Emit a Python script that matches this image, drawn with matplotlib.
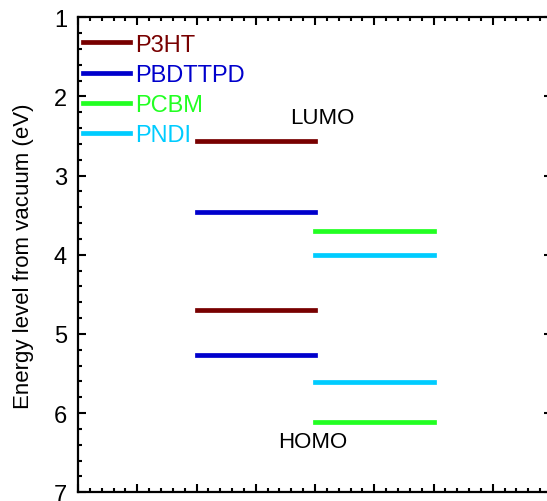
import matplotlib
matplotlib.use("Agg")
import matplotlib.pyplot as plt
from matplotlib.ticker import MultipleLocator

plt.rcParams['font.family'] = ['Liberation Sans', 'DejaVu Sans']

# Frontier orbital energies (eV below vacuum)
materials = ['P3HT', 'PBDTTPD', 'PCBM', 'PNDI']
lumo = [2.56, 3.46, 3.70, 4.00]
homo = [4.70, 5.26, 6.11, 5.61]
x_start = [2, 2, 4, 4]
x_end = [4, 4, 6, 6]
colors = ['#780000', '#0000cc', '#22ff22', '#00ccff']

fig = plt.figure(figsize=(5.47, 5.02), dpi=100)
ax = fig.add_axes([78 / 547, 1 - 493.3 / 502, 474 / 547, 475 / 502])

for name, lu, ho, x0, x1, c in zip(materials, lumo, homo, x_start, x_end, colors):
    ax.plot([x0, x1], [lu, lu], color=c, lw=3.4, solid_capstyle='projecting', label=name)
    ax.plot([x0, x1], [ho, ho], color=c, lw=3.4, solid_capstyle='projecting')

ax.text(4.13, 2.27, 'LUMO', fontsize=16, ha='center', va='center')
ax.text(3.96, 6.36, 'HOMO', fontsize=16, ha='center', va='center')

ax.set_xlim(0, 8)
ax.set_ylim(7, 1)
ax.yaxis.set_major_locator(MultipleLocator(1))
ax.yaxis.set_minor_locator(MultipleLocator(0.2))
ax.xaxis.set_major_locator(MultipleLocator(1))
ax.xaxis.set_minor_locator(MultipleLocator(0.2))
ax.tick_params(which='both', direction='in', top=True, right=True, width=1.5)
ax.tick_params(which='major', length=5.5)
ax.tick_params(which='minor', length=3)
ax.tick_params(axis='x', labelbottom=False)
ax.tick_params(axis='y', labelsize=17, pad=8)
for s in ax.spines.values():
    s.set_linewidth(1.6)

ax.set_ylabel('Energy level from vacuum (eV)', fontsize=16, labelpad=14)

leg = ax.legend(loc='upper left', bbox_to_anchor=(0.0105, 0.9655), frameon=False,
                fontsize=17, handlelength=2.0, handletextpad=0.2,
                labelspacing=0.35, labelcolor='linecolor',
                borderaxespad=0, borderpad=0)

fig.savefig('out.png', dpi=100)
